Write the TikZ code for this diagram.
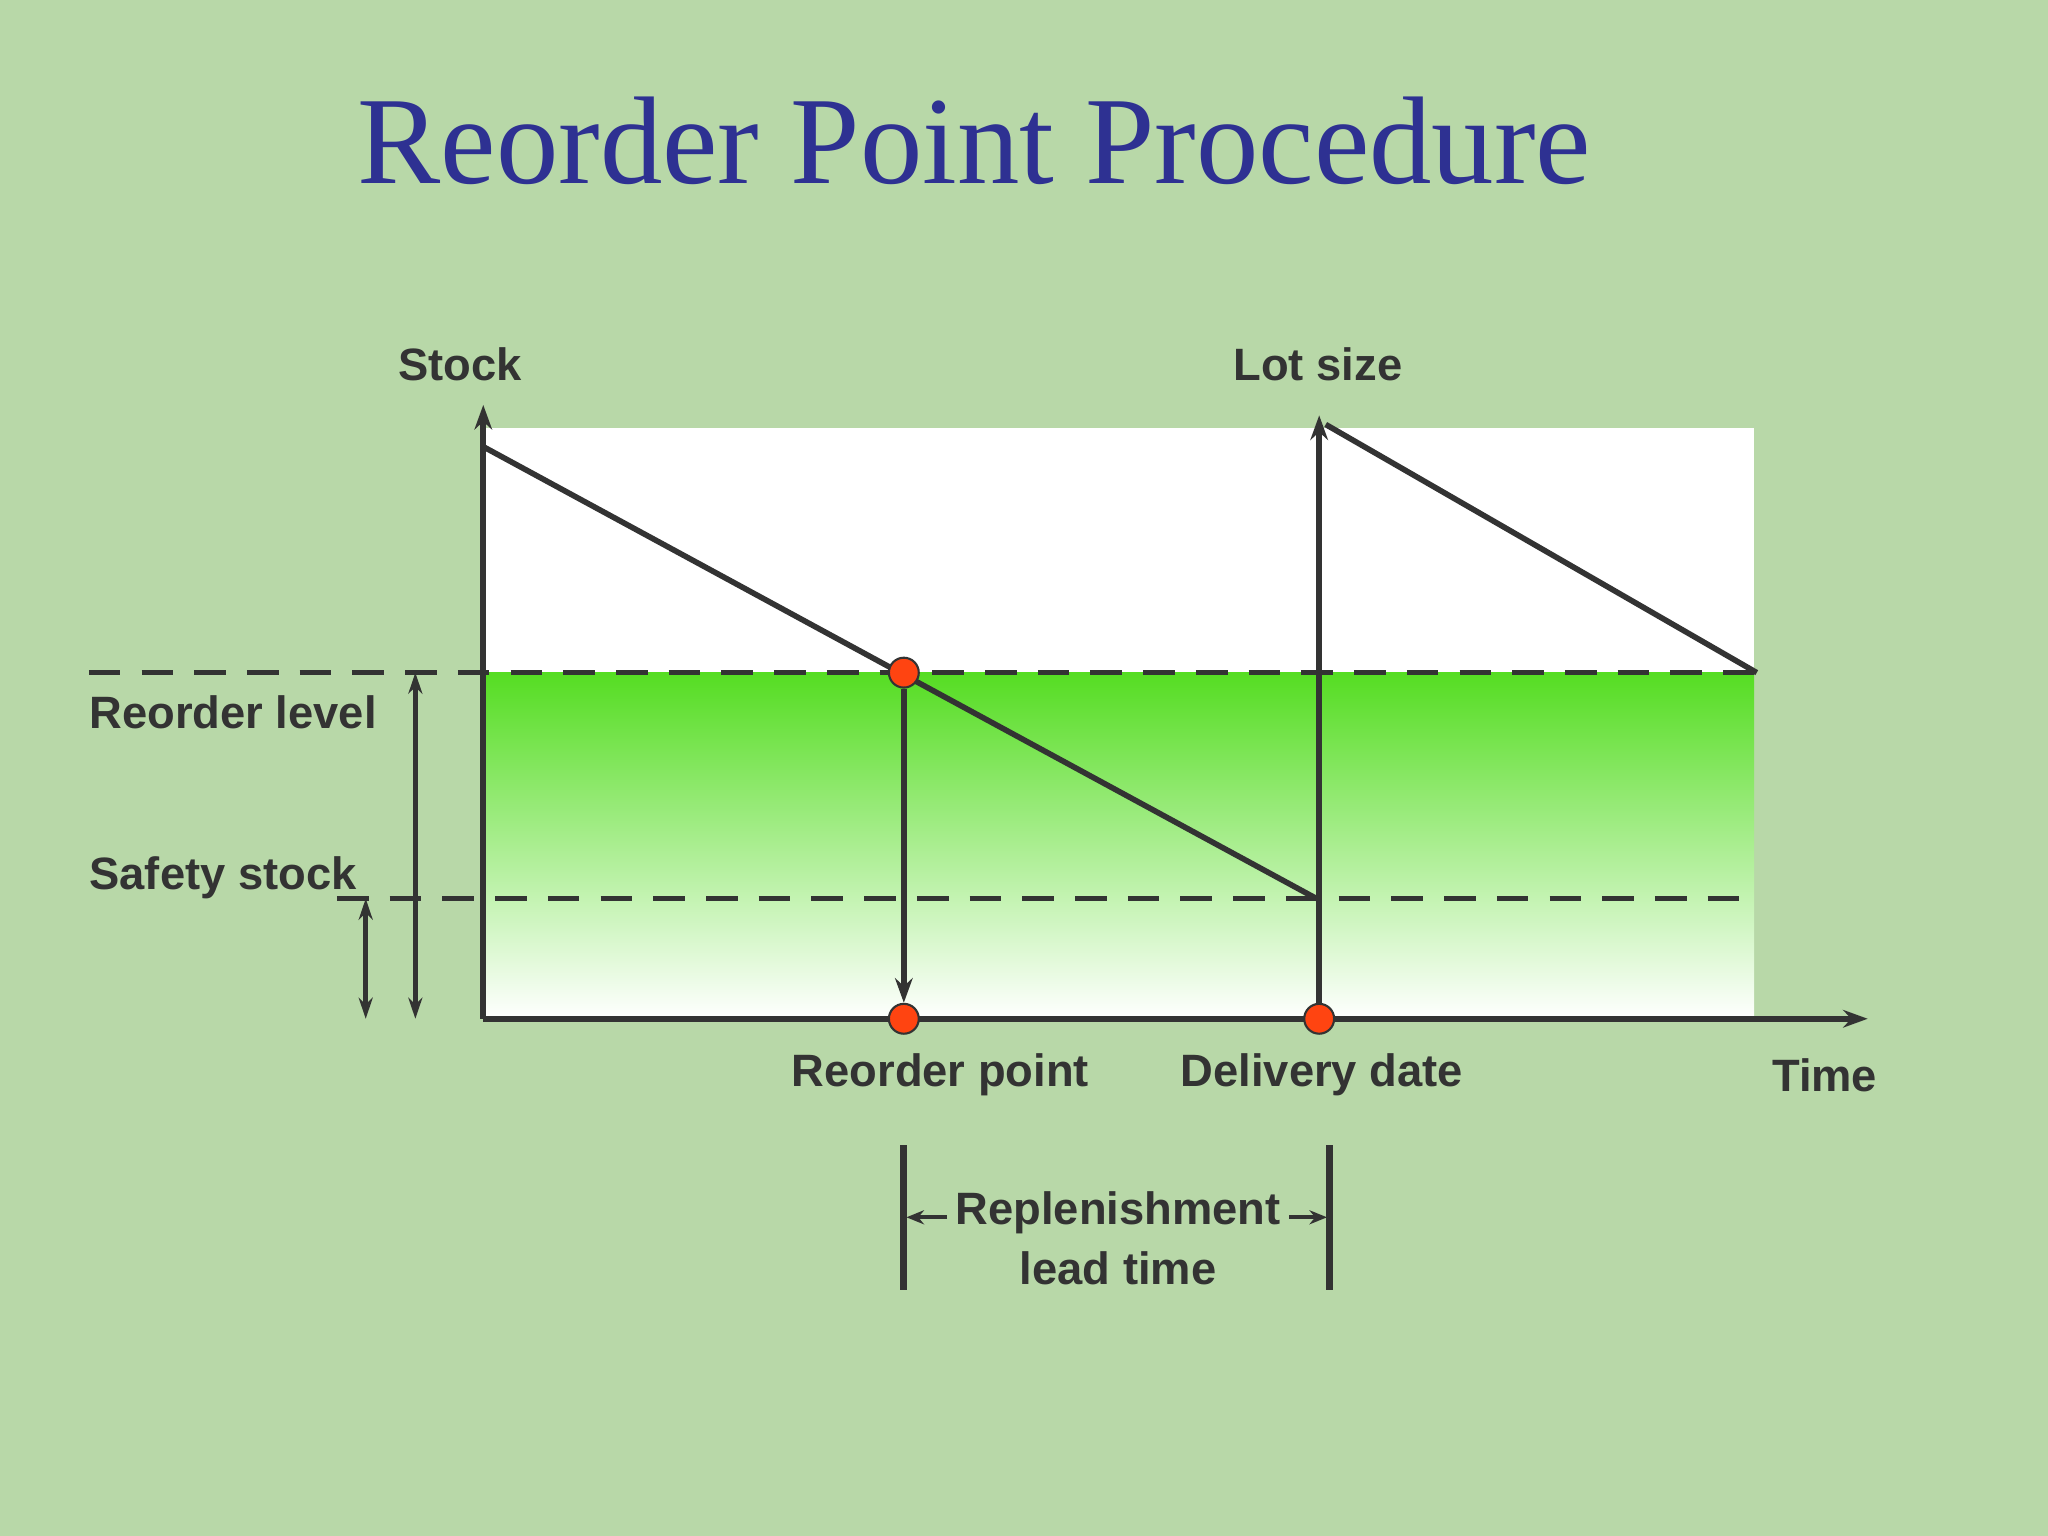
\documentclass[tikz,border=0pt]{standalone}
\usepackage{fontspec}
\setmainfont{Liberation Sans}
\newfontfamily\titlefont{Liberation Serif}
\usetikzlibrary{arrows.meta}
\definecolor{bgcol}{HTML}{B8D8A8}
\definecolor{titleblue}{HTML}{2E3192}
\definecolor{ink}{HTML}{333333}
\definecolor{stockgreen}{HTML}{55DD22}
\definecolor{dotred}{HTML}{FF4411}
\tikzset{
	lbl/.style = {font=\fontsize{12.9}{15}\selectfont\bfseries, text=ink, inner sep=0pt},
	curve/.style = {ink, line width=1.6pt},
	axis/.style = {ink, line width=1.8pt, -{Stealth[length=7pt,width=5pt]}},
	level/.style = {ink, line width=1.4pt, dash pattern=on 9pt off 6pt},
	dot/.style = {circle, fill=dotred, draw=ink, line width=0.6pt, minimum size=8.5pt, inner sep=0pt},
	span/.style = {ink, line width=1.4pt, {Stealth[length=6pt,width=4pt]}-{Stealth[length=6pt,width=4pt]}},
}
\begin{document}
\begin{tikzpicture}[x=0.013061cm, y=-0.013061cm]
	\fill[bgcol] (0,0) rectangle (1568,1176);
	\useasboundingbox (0,0) rectangle (1568,1176);
	\node[font=\titlefont\fontsize{35.5}{40}\selectfont, text=titleblue] (title) at (746,108) {Reorder Point Procedure};

	% stock areas
	\fill[white] (370,328) rectangle (1343,515);
	\shade[top color=stockgreen, bottom color=white] (370,515) rectangle (1343,780);

	% levels
	\coordinate (rl0) at (68,515);   \coordinate (rl1) at (1343,515);
	\coordinate (ss0) at (258,688);  \coordinate (ss1) at (1335,688);
	\draw[level] (rl0) -- (rl1);
	\draw[level] (ss0) -- (ss1);

	% axes
	\coordinate (o) at (370,780);
	\coordinate (ytop) at (370,310);
	\coordinate (xend) at (1430,780);
	\draw[axis] (o) -- (ytop);
	\draw[axis] (o) -- (xend);

	% stock curve
	\coordinate (s0) at (370,342);   \coordinate (s1) at (1008,688);
	\coordinate (s2) at (1015,325);  \coordinate (s3) at (1345,515);
	\draw[curve] (s0) -- (s1);
	\draw[curve] (s2) -- (s3);

	% markers
	\node[dot] (rp) at (692,515) {};
	\node[dot] (rpt) at (692,780) {};
	\node[dot] (dd) at (1010,780) {};
	\coordinate (lot) at (1010,318);
	\draw[axis] (dd) -- (lot);
	\draw[axis] (rp) -- (rpt);

	% spans
	\coordinate (a0) at (318,515); \coordinate (a1) at (318,780);
	\coordinate (b0) at (280,688); \coordinate (b1) at (280,780);
	\draw[span] (a0) -- (a1);
	\draw[span] (b0) -- (b1);

	% labels
	\node[lbl] (stock) at (352,279) {Stock};
	\node[lbl] (lotsize) at (1009,279) {Lot size};
	\node[lbl, anchor=west] (reorder) at (68,545) {Reorder level};
	\node[lbl, anchor=west] (safety) at (68,672) {Safety stock};
	\node[lbl] (rptlbl) at (720,823) {Reorder point};
	\node[lbl] (ddlbl) at (1012,823) {Delivery date};
	\node[lbl] (time) at (1397,823) {Time};

	% lead time
	\coordinate (l0) at (692,877); \coordinate (l1) at (692,988);
	\coordinate (r0) at (1018,877); \coordinate (r1) at (1018,988);
	\draw[ink, line width=2pt] (l0) -- (l1);
	\draw[ink, line width=2pt] (r0) -- (r1);
	\node[lbl, align=center] (lead) at (856,948) {Replenishment\\[2pt]lead time};
	\coordinate (la) at (694,932); \coordinate (ra) at (1016,932);
	\draw[ink, line width=1.2pt, -{Stealth[length=5pt,width=4pt]}] (lead.west |- la) ++(-6,0) -- (la);
	\draw[ink, line width=1.2pt, -{Stealth[length=5pt,width=4pt]}] (lead.east |- ra) ++(6,0) -- (ra);
\end{tikzpicture}
\end{document}
